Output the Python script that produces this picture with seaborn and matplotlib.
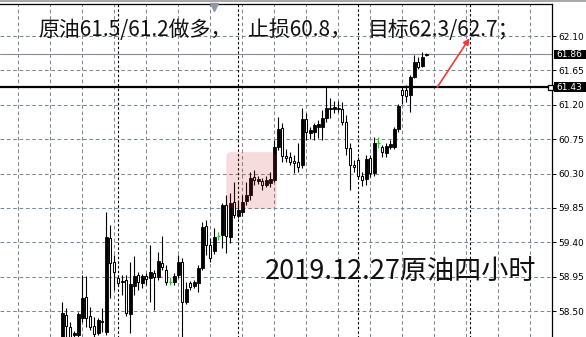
import matplotlib
matplotlib.use('Agg')
import matplotlib.pyplot as plt
import matplotlib.patches as mpatches
import numpy as np
import pandas as pd
import seaborn as sns

# ---- data (4h crude oil candles) ----
opens = [58.12, 58.45, 58.29, 58.19, 58.19, 58.41, 58.68, 58.44, 58.30, 58.21,
         58.37, 58.23, 59.46, 59.14, 58.93, 58.88, 58.91, 58.46, 58.83, 58.97,
         58.87, 58.96, 58.93, 59.00, 58.94, 59.13, 59.04, 58.88, 58.88, 58.97,
         59.14, 58.62, 58.87, 58.83, 58.87, 59.06, 59.61, 59.36, 59.29, 59.48,
         59.50, 59.89, 59.47, 59.93, 59.74, 59.80, 59.94, 60.02, 60.25, 60.20,
         60.20, 60.15, 60.18, 60.22, 60.65, 60.90, 60.53, 60.52, 60.46, 60.45,
         60.41, 61.01, 60.83, 60.84, 60.91, 60.91, 61.03, 61.14, 61.14, 61.14,
         61.14, 60.97, 60.63, 60.41, 60.48, 60.27, 60.23, 60.50, 60.31, 60.70,
         60.65, 60.57, 60.65, 60.65, 60.88, 61.39, 61.39, 61.33, 61.56, 61.76,
         61.71, 61.85]
highs = [58.62, 58.54, 58.36, 58.24, 58.49, 58.97, 58.96, 58.55, 58.42, 58.41,
         58.54, 59.80, 59.63, 59.23, 58.97, 58.97, 58.97, 59.14, 59.22, 59.01,
         58.98, 59.00, 59.36, 59.04, 59.27, 59.48, 59.10, 58.94, 59.00, 59.23,
         59.19, 58.88, 58.89, 58.91, 59.10, 59.67, 59.69, 59.45, 59.59, 59.53,
         59.91, 60.02, 60.05, 60.19, 59.95, 60.02, 60.19, 60.32, 60.35, 60.27,
         60.24, 60.27, 60.32, 60.74, 61.04, 60.96, 60.62, 60.58, 60.54, 60.70,
         61.16, 61.09, 60.91, 60.96, 61.00, 61.13, 61.43, 61.29, 61.25, 61.25,
         61.24, 61.07, 60.70, 60.48, 60.52, 60.32, 60.54, 60.54, 60.78, 60.78,
         60.67, 60.70, 60.74, 60.91, 61.21, 61.45, 61.46, 61.59, 61.85, 61.82,
         61.89, 61.88]
lows = [58.08, 58.16, 58.12, 58.15, 58.16, 58.36, 58.29, 58.25, 58.16, 58.19,
        58.23, 58.19, 58.67, 58.78, 58.83, 58.71, 58.44, 58.21, 58.71, 58.78,
        58.80, 58.84, 58.62, 58.51, 58.91, 59.04, 58.84, 58.84, 58.84, 58.93,
        58.10, 58.59, 58.78, 58.80, 58.75, 59.04, 59.23, 59.14, 59.25, 59.43,
        59.33, 59.26, 59.39, 59.72, 59.72, 59.74, 59.89, 59.95, 60.15, 60.16,
        60.08, 60.12, 60.12, 60.19, 60.61, 60.45, 60.45, 60.41, 60.31, 60.32,
        60.37, 60.74, 60.75, 60.74, 60.76, 60.74, 60.97, 61.03, 61.09, 61.11,
        60.93, 60.54, 60.08, 60.32, 60.24, 60.14, 60.15, 60.26, 60.27, 60.63,
        60.52, 60.52, 60.62, 60.62, 60.84, 61.21, 61.24, 61.11, 61.55, 61.67,
        61.69, 61.84]
closes = [58.47, 58.30, 58.15, 58.21, 58.46, 58.67, 58.41, 58.29, 58.20, 58.38,
          58.35, 59.47, 59.13, 59.01, 58.87, 58.89, 58.47, 58.85, 58.96, 58.88,
          58.96, 58.92, 59.01, 58.94, 59.15, 59.08, 58.88, 58.88, 58.96, 59.14,
          58.62, 58.79, 58.81, 58.88, 59.06, 59.60, 59.36, 59.19, 59.47, 59.48,
          59.89, 59.48, 59.91, 59.76, 59.82, 59.93, 60.02, 60.24, 60.22, 60.23,
          60.15, 60.22, 60.23, 60.65, 60.88, 60.53, 60.50, 60.45, 60.44, 60.39,
          61.01, 60.84, 60.87, 60.94, 60.95, 61.03, 61.16, 61.16, 61.17, 61.16,
          60.97, 60.63, 60.41, 60.39, 60.27, 60.22, 60.49, 60.31, 60.70, 60.70,
          60.58, 60.66, 60.69, 60.88, 61.18, 61.33, 61.31, 61.56, 61.76, 61.69,
          61.83, 61.86]

y_ticks = [62.10, 61.65, 61.20, 60.75, 60.30, 59.85, 59.40, 58.95, 58.50]
y_tick_labels = ['62.10', '61.65', '61.20', '60.75', '60.30', '59.85', '59.40', '58.95', '58.50']
current_price = 61.86
level_price = 61.43
week_starts = [14, 44, 74, 102]
title_parts = ['原油61.5/61.2做多，', '止损60.8，', '目标62.3/62.7；']
caption = '2019.12.27原油四小时'

# ---- style ----
sns.set_theme(style='white')
plt.rcParams['font.family'] = ['DejaVu Sans']
CJK = ['Noto Sans CJK SC', 'DejaVu Sans']

W, H = 586, 337
fig = plt.figure(figsize=(W / 100, H / 100), dpi=100)
fig.patch.set_facecolor('white')
ax = fig.add_axes([0, 0, 552 / W, 1 - 4 / H])
ax.set_facecolor('white')

n = len(opens)
df = pd.DataFrame({'i': np.arange(n), 'o': opens, 'h': highs, 'l': lows, 'c': closes})
df['kind'] = np.where(df.c > df.o, 'up', np.where(df.c < df.o, 'down', 'doji'))
green = '#10d810'
wick_col = np.where(df.kind == 'doji', green, 'black')

# axes ranges (bar index / price)
x_left = (0 - 62.3) / 4
x_right = (552 - 62.3) / 4
ax.set_xlim(x_left, x_right)
ax.set_ylim(58.16, 62.519)

# grid
grid_x = [(18.2 + 32 * k - 62.3) / 4 for k in range(17)]
ax.set_xticks(grid_x)
ax.set_yticks(y_ticks)
ax.set_yticklabels(y_tick_labels)
grid_col = '#7a8898'
ax.grid(True, color=grid_col, lw=0.75, linestyle=(0, (3.5, 2.6)), zorder=0)
ax.set_axisbelow(True)

# period separators
ax.vlines(week_starts, 58.0, 63.0, colors='black', linestyles=(0, (2.2, 2.0)), lw=0.8, zorder=1)

# price lines
ax.axhline(current_price, color='#8090a0', lw=0.8, zorder=1)

# candles
ax.vlines(df.i, df.l, df.h, colors=wick_col, lw=0.8, zorder=3)
lo = np.minimum(df.o, df.c)
ht = np.maximum((df.c - df.o).abs(), 0.008)
up = df.kind == 'up'
dn = df.kind == 'down'
dj = df.kind == 'doji'
ax.bar(df.i[up], ht[up], bottom=lo[up], width=0.62, color='black', edgecolor='black', lw=0.6, zorder=4)
ax.bar(df.i[dn], ht[dn], bottom=lo[dn], width=0.55, color='white', edgecolor='black', lw=0.75, zorder=4)
ax.hlines(df.o[dj], df.i[dj] - 0.35, df.i[dj] + 0.35, colors=green, lw=0.9, zorder=4)

# level line
ax.axhline(level_price, color='black', lw=1.6, zorder=5)

# watermark tint
ax.add_patch(mpatches.FancyBboxPatch((41.0, 59.84), 12.6, 0.74,
                                     boxstyle='round,pad=0,rounding_size=1.2',
                                     mutation_aspect=0.06,
                                     facecolor='#cc3030', edgecolor='none', alpha=0.17, zorder=6))

# spines / ticks
for s in ['left', 'bottom']:
    ax.spines[s].set_visible(False)
for s in ['top', 'right']:
    ax.spines[s].set_visible(True)
    ax.spines[s].set_color('black')
    ax.spines[s].set_linewidth(0.9)
ax.yaxis.tick_right()
ax.tick_params(axis='x', length=0, labelbottom=False, labeltop=False)
ax.tick_params(axis='y', left=False, right=True, length=3, width=0.7, pad=1.8,
               labelsize=6.5, colors='black', direction='out')

# price boxes on the right
yt = ax.get_yaxis_transform()
for p in [current_price, level_price]:
    ax.add_patch(mpatches.Rectangle((1 + 1.5 / 552, p - 0.062), 34 / 552, 0.124, transform=yt,
                                    facecolor='black', edgecolor='none', clip_on=False, zorder=7))
    ax.text(1 + 4 / 552, p, f'{p:.2f}', transform=yt, color='white', fontsize=6.5,
            va='center', ha='left', clip_on=False, zorder=8)
ax.plot([549.5 / 552], [level_price], transform=yt, marker='s', ms=3.6, mfc='white',
        mec='black', mew=0.9, clip_on=False, zorder=9)

# arrow
ax.annotate('', xy=((469.5 - 62.3) / 4, 62.07), xytext=((437.3 - 62.3) / 4, level_price),
            arrowprops=dict(arrowstyle='-|>', color='#f03a3a', lw=1.2, mutation_scale=9,
                            shrinkA=0, shrinkB=0), zorder=9)

# window border and shift marker
fig.patches.append(mpatches.Rectangle((0, 1 - 2.2 / H), 1, 2.2 / H, transform=fig.transFigure,
                                      facecolor='#a8a8a8', edgecolor='none'))
fig.lines.append(plt.Line2D([214 / W], [1 - 7 / H], transform=fig.transFigure, marker='v',
                            ms=5.5, color='#8d98a4', lw=0))

# texts
xs = [38, 248, 368]
for x, s in zip(xs, title_parts):
    fig.text(x / W, 1 - 36 / H, s, fontsize=15, family=CJK, color='#111111',
             ha='left', va='baseline')
fig.text(265 / W, 1 - 280 / H, caption, fontsize=19.5, family=CJK, color='#111111',
         ha='left', va='baseline')

fig.savefig('out.png', dpi=100, facecolor='white')
